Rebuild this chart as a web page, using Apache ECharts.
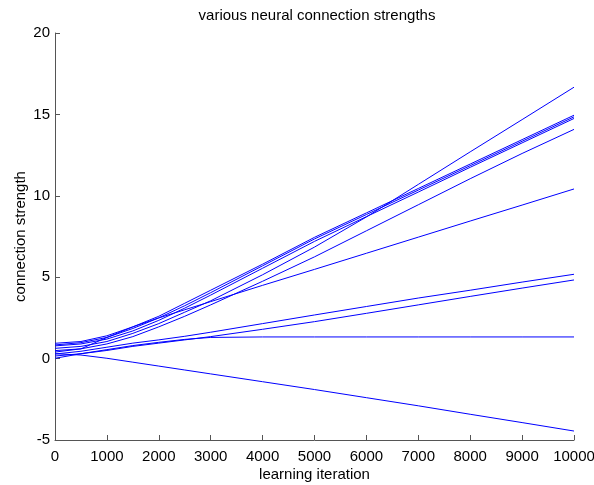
<!DOCTYPE html>
<html>
<head>
<meta charset="utf-8">
<script src="https://cdn.jsdelivr.net/npm/echarts@6/dist/echarts.min.js"></script>
<style>html,body{margin:0;padding:0;background:#fff}#c{width:594px;height:485px}</style>
</head>
<body>
<div id="c"></div>
<script>
var iterations = [0, 500, 1000, 1500, 2000, 2500, 3000, 4000, 5000, 6000, 7000, 8000, 9000, 10000];
var xTicks = [0, 1000, 2000, 3000, 4000, 5000, 6000, 7000, 8000, 9000, 10000];
var yTicks = [-5, 0, 5, 10, 15, 20];

var lineA  = [0.63, 0.75, 1.05, 1.55, 2.15, 2.85, 3.55, 5.15, 6.85, 8.7, 10.7, 12.7, 14.68, 16.67];
var lineB1 = [0.94, 1.05, 1.4, 1.95, 2.6, 3.4, 4.2, 5.8, 7.45, 8.95, 10.45, 11.95, 13.45, 14.95];
var lineB2 = [0.84, 0.98, 1.3, 1.85, 2.5, 3.25, 4.05, 5.7, 7.35, 8.85, 10.35, 11.85, 13.35, 14.85];
var lineB3 = [0.78, 0.9, 1.2, 1.7, 2.35, 3.1, 3.9, 5.55, 7.2, 8.72, 10.23, 11.75, 13.25, 14.75];
var lineC  = [0.49, 0.6, 0.9, 1.35, 1.95, 2.6, 3.3, 4.75, 6.25, 7.85, 9.45, 11.05, 12.6, 14.08];
var lineD  = [0.4, 0.6, 1.3, 1.95, 2.5, 3.0, 3.5, 4.5, 5.48, 6.47, 7.46, 8.45, 9.43, 10.42];
var lineE  = [0.28, 0.45, 0.7, 0.95, 1.15, 1.37, 1.62, 2.15, 2.68, 3.2, 3.72, 4.2, 4.7, 5.18];
var lineF  = [0.16, 0.3, 0.5, 0.75, 0.95, 1.15, 1.35, 1.8, 2.27, 2.78, 3.3, 3.82, 4.33, 4.83];
var lineG  = [0.02, 0.3, 0.55, 0.8, 1.0, 1.18, 1.3, 1.33, 1.33, 1.33, 1.33, 1.33, 1.33, 1.33];
var lineH  = [0.3, 0.22, 0.02, -0.22, -0.46, -0.7, -0.94, -1.42, -1.9, -2.4, -2.9, -3.42, -3.93, -4.45];

var allLines = [lineA, lineB1, lineB2, lineB3, lineC, lineD, lineE, lineF, lineG, lineH];

var chart = echarts.init(document.getElementById('c'), null, {renderer: 'canvas'});
var font = 'Liberation Sans, Arial, Helvetica, sans-serif';
var series = allLines.map(function (vals) {
  return {
    type: 'line',
    data: iterations.map(function (x, i) { return [x, vals[i]]; }),
    showSymbol: false,
    symbol: 'none',
    lineStyle: {color: '#0000ff', width: 1},
    itemStyle: {color: '#0000ff'},
    emphasis: {disabled: true},
    silent: true
  };
});

chart.setOption({
  animation: false,
  backgroundColor: '#ffffff',
  title: {
    text: 'various neural connection strengths',
    left: 312, top: 3, textAlign: 'center',
    textStyle: {fontFamily: font, fontSize: 15, fontWeight: 'normal', color: '#000'}
  },
  grid: {left: 55, right: 20, top: 33, bottom: 45, containLabel: false, outerBoundsMode: 'none'},
  xAxis: {
    type: 'value', min: xTicks[0], max: xTicks[xTicks.length - 1], interval: 1000,
    name: 'learning iteration', nameLocation: 'middle', nameGap: 27, nameMoveOverlap: false,
    nameTextStyle: {fontFamily: font, fontSize: 15, color: '#000'},
    axisLine: {show: true, onZero: false, lineStyle: {color: '#555', width: 1}},
    axisTick: {show: true, inside: true, length: 5, lineStyle: {color: '#555'}},
    axisLabel: {fontFamily: font, fontSize: 15, color: '#000', margin: 9,
      formatter: function (v) { return String(v); }},
    splitLine: {show: false}
  },
  yAxis: {
    type: 'value', min: yTicks[0], max: yTicks[yTicks.length - 1], interval: 5,
    name: 'connection strength', nameLocation: 'middle', nameGap: 27, nameMoveOverlap: false,
    nameTextStyle: {fontFamily: font, fontSize: 15, color: '#000'},
    axisLine: {show: true, onZero: false, lineStyle: {color: '#555', width: 1}},
    axisTick: {show: true, inside: true, length: 5, lineStyle: {color: '#555'}},
    axisLabel: {fontFamily: font, fontSize: 15, color: '#000', margin: 5,
      formatter: function (v) { return String(v); }},
    splitLine: {show: false}
  },
  series: series
});
</script>
</body>
</html>
